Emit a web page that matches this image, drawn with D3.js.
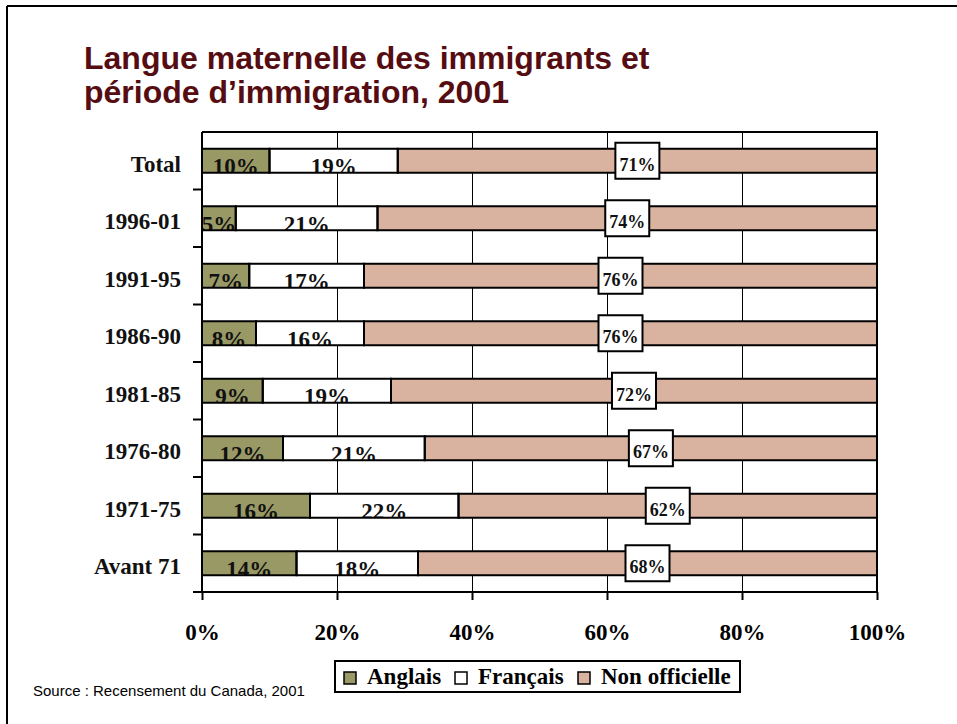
<!DOCTYPE html>
<html>
<head>
<meta charset="utf-8">
<script src="https://cdn.jsdelivr.net/npm/d3@7"></script>
<style>
  body { margin: 0; background: #fff; }
  svg { display: block; }
</style>
</head>
<body>
<div id="chart"></div>
<script>
// Data
var periods = ["Total", "1996-01", "1991-95", "1986-90", "1981-85", "1976-80", "1971-75", "Avant 71"];
var anglais = [10, 5, 7, 8, 9, 12, 16, 14];
var francais = [19, 21, 17, 16, 19, 21, 22, 18];
var nonOfficielle = [71, 74, 76, 76, 72, 67, 62, 68];
var seriesNames = ["Anglais", "Français", "Non officielle"];
var xTicks = [0, 20, 40, 60, 80, 100];

var W = 957, H = 724;
var plot = {left: 202, right: 877, top: 132, bottom: 592};
var colors = ["#999966", "#ffffff", "#d9b39f"];
var serif = "'Liberation Serif', 'Times New Roman', serif";
var sans = "'Liberation Sans', Arial, sans-serif";

var svg = d3.select("#chart").append("svg")
    .attr("width", W)
    .attr("height", H);

// slide frame (only top and left edges are visible)
svg.append("line").attr("x1", 7).attr("x2", W).attr("y1", 6).attr("y2", 6)
    .attr("stroke", "#000").attr("stroke-width", 2);
svg.append("line").attr("x1", 7).attr("x2", 7).attr("y1", 6).attr("y2", H)
    .attr("stroke", "#000").attr("stroke-width", 2);

// Title
var title = svg.append("text")
    .attr("x", 84)
    .attr("font-family", sans)
    .attr("font-weight", "bold")
    .attr("font-size", 32)
    .attr("fill", "#560d12");
title.append("tspan").attr("x", 84).attr("y", 69).text("Langue maternelle des immigrants et");
title.append("tspan").attr("x", 84).attr("y", 103).text("période d’immigration, 2001");

var x = d3.scaleLinear().domain([0, 100]).range([plot.left, plot.right]);
var y = d3.scaleBand().domain(periods).range([plot.top, plot.bottom])
    .paddingInner(0.583).paddingOuter(0.2915);

// stacked rows
var rows = periods.map(function(p, i) {
    var vals = [anglais[i], francais[i], nonOfficielle[i]];
    var start = 0;
    return {
        period: p,
        segs: vals.map(function(v, k) {
            var s = {key: k, x0: start, x1: start + v, value: v};
            start += v;
            return s;
        })
    };
});

// gridlines
svg.append("g")
    .selectAll("line")
    .data([20, 40, 60, 80])
    .enter().append("line")
    .attr("x1", d => Math.round(x(d)) + 0.5).attr("x2", d => Math.round(x(d)) + 0.5)
    .attr("y1", plot.top).attr("y2", plot.bottom)
    .attr("stroke", "#000").attr("stroke-width", 1);

// clip paths per row so labels are cut at bar edges
var defs = svg.append("defs");
defs.selectAll("clipPath")
    .data(rows)
    .enter().append("clipPath")
    .attr("id", (d, i) => "row" + i)
    .append("rect")
    .attr("x", x(0) + 1)
    .attr("width", x(100) - x(0))
    .attr("y", d => y(d.period))
    .attr("height", y.bandwidth());

var rowG = svg.append("g")
    .selectAll("g")
    .data(rows)
    .enter().append("g");

// bar fills
rowG.selectAll("rect.fill")
    .data(d => d.segs.map(s => Object.assign({period: d.period}, s)))
    .enter().append("rect")
    .attr("class", "fill")
    .attr("x", d => x(d.x0))
    .attr("width", d => x(d.x1) - x(d.x0))
    .attr("y", d => y(d.period))
    .attr("height", y.bandwidth())
    .attr("fill", d => colors[d.key]);

// labels of Anglais / Français, clipped by the bar
rowG.append("g")
    .attr("clip-path", (d, i) => "url(#row" + i + ")")
    .selectAll("text")
    .data(d => d.segs.filter(s => s.key < 2).map(s => Object.assign({period: d.period}, s)))
    .enter().append("text")
    .attr("x", d => x((d.x0 + d.x1) / 2))
    .attr("y", d => y(d.period) + y.bandwidth() + 1.5)
    .attr("text-anchor", "middle")
    .attr("font-family", serif)
    .attr("font-weight", "bold")
    .attr("font-size", 23)
    .attr("fill", "#111")
    .text(d => d.value + "%");

// bar outlines
rowG.selectAll("rect.edge")
    .data(d => d.segs.map(s => Object.assign({period: d.period}, s)))
    .enter().append("rect")
    .attr("class", "edge")
    .attr("x", d => x(d.x0))
    .attr("width", d => x(d.x1) - x(d.x0))
    .attr("y", d => y(d.period))
    .attr("height", y.bandwidth())
    .attr("fill", "none")
    .attr("stroke", "#000")
    .attr("stroke-width", 2);

// plot border (top and right)
svg.append("path")
    .attr("d", "M" + plot.left + "," + plot.top + "H" + plot.right + "V" + plot.bottom)
    .attr("fill", "none").attr("stroke", "#000").attr("stroke-width", 2);

// X axis
var xAxis = svg.append("g")
    .attr("transform", "translate(0," + plot.bottom + ")")
    .call(d3.axisBottom(x).tickValues(xTicks).tickSize(8).tickPadding(24).tickFormat(d => d + "%"));
xAxis.select(".domain").remove();
xAxis.selectAll(".tick line").attr("stroke-width", 2);
xAxis.selectAll("text")
    .attr("font-family", serif)
    .attr("font-weight", "bold")
    .attr("font-size", 23)
    .attr("fill", "#000");
svg.append("line")
    .attr("x1", plot.left - 9).attr("x2", plot.right)
    .attr("y1", plot.bottom).attr("y2", plot.bottom)
    .attr("stroke", "#000").attr("stroke-width", 2);

// Y axis: labels at band centres, ticks between categories
var yAxis = svg.append("g")
    .attr("transform", "translate(" + plot.left + ",0)")
    .call(d3.axisLeft(y).tickSize(0).tickPadding(21));
yAxis.select(".domain").remove();
yAxis.selectAll("text")
    .attr("font-family", serif)
    .attr("font-weight", "bold")
    .attr("font-size", 23)
    .attr("fill", "#111")
    .attr("dy", "0.48em");
svg.append("g")
    .selectAll("line")
    .data(d3.range(1, periods.length + 1))
    .enter().append("line")
    .attr("x1", plot.left - 9).attr("x2", plot.left)
    .attr("y1", i => plot.top + i * y.step()).attr("y2", i => plot.top + i * y.step())
    .attr("stroke", "#000").attr("stroke-width", 2);
svg.append("line")
    .attr("x1", plot.left).attr("x2", plot.left)
    .attr("y1", plot.top).attr("y2", plot.bottom)
    .attr("stroke", "#000").attr("stroke-width", 2);

// boxed labels of the non-official share
var boxG = rowG.append("g")
    .datum(d => Object.assign({period: d.period}, d.segs[2]))
    .attr("transform", d => "translate(" + x((d.x0 + d.x1) / 2) + "," + (y(d.period) + y.bandwidth() / 2) + ")");
boxG.append("rect")
    .attr("x", -22).attr("y", -18).attr("width", 44).attr("height", 36)
    .attr("fill", "#fff").attr("stroke", "#000").attr("stroke-width", 2);
boxG.append("text")
    .attr("text-anchor", "middle")
    .attr("y", 10)
    .attr("font-family", serif)
    .attr("font-weight", "bold")
    .attr("font-size", 18)
    .attr("fill", "#111")
    .text(d => d.value + "%");

// Legend
var legend = svg.append("g").attr("transform", "translate(335,661)");
legend.append("rect")
    .attr("width", 405).attr("height", 31)
    .attr("fill", "#fff").attr("stroke", "#000").attr("stroke-width", 2);
var legendX = [9, 120, 243];
var item = legend.selectAll("g.item")
    .data(seriesNames)
    .enter().append("g")
    .attr("transform", (d, i) => "translate(" + legendX[i] + ",0)");
item.append("rect")
    .attr("y", 11).attr("width", 12).attr("height", 12)
    .attr("fill", (d, i) => colors[i])
    .attr("stroke", "#000").attr("stroke-width", 1.5);
item.append("text")
    .attr("x", 23).attr("y", 23)
    .attr("font-family", serif)
    .attr("font-weight", "bold")
    .attr("font-size", 23)
    .attr("fill", "#000")
    .text(d => d);

// Source
svg.append("text")
    .attr("x", 33).attr("y", 696)
    .attr("font-family", sans)
    .attr("font-size", 15)
    .attr("fill", "#000")
    .text("Source : Recensement du Canada, 2001");
</script>
</body>
</html>
